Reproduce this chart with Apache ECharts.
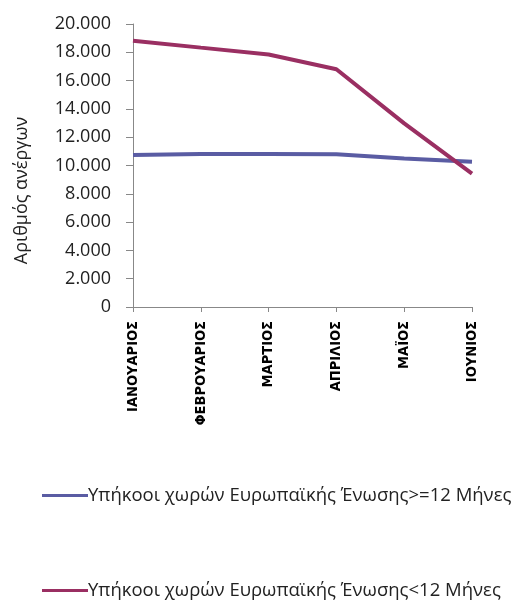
<!DOCTYPE html>
<html>
<head>
<meta charset="utf-8">
<script src="https://cdn.jsdelivr.net/npm/echarts@6/dist/echarts.min.js"></script>
<style>
  html, body { margin: 0; padding: 0; background: #fff; }
  #main { width: 524px; height: 608px; }
</style>
</head>
<body>
<div id="main"></div>
<script>
// months (x axis)
const months = ['ΙΑΝΟΥΑΡΙΟΣ', 'ΦΕΒΡΟΥΑΡΙΟΣ', 'ΜΑΡΤΙΟΣ', 'ΑΠΡΙΛΙΟΣ', 'ΜΑΪΟΣ', 'ΙΟΥΝΙΟΣ'];
// series names
const nameLong = 'Υπήκοοι χωρών Ευρωπαϊκής Ένωσης>=12 Μήνες';
const nameShort = 'Υπήκοοι χωρών Ευρωπαϊκής Ένωσης<12 Μήνες';
// values
const valuesLong = [10750, 10820, 10820, 10800, 10500, 10270];
const valuesShort = [18820, 18330, 17850, 16800, 12980, 9420];

const fmt = v => String(v).replace(/\B(?=(\d{3})+(?!\d))/g, '.');

var chart = echarts.init(document.getElementById('main'));
var option = {
  animation: false,
  textStyle: { fontFamily: 'Open Sans' },
  grid: { left: 133, top: 24, right: 52, bottom: 301, containLabel: false },
  xAxis: {
    type: 'category',
    data: months,
    boundaryGap: false,
    axisLine: { lineStyle: { color: '#888', width: 1 } },
    axisTick: { show: true, length: 5, lineStyle: { color: '#888' } },
    axisLabel: {
      rotate: 90,
      margin: 14,
      color: '#000',
      fontFamily: 'DejaVu Sans Condensed',
      fontWeight: 'bold',
      fontSize: 14.5
    }
  },
  yAxis: {
    type: 'value',
    min: 0,
    max: 20000,
    interval: 2000,
    name: 'Αριθμός ανέργων',
    nameLocation: 'middle',
    nameGap: 102,
    nameRotate: 90,
    nameTextStyle: { fontSize: 18, color: '#222', fontFamily: 'Open Sans', padding: [0, 0, 0, -50] },
    axisLine: { show: true, lineStyle: { color: '#888', width: 1 } },
    axisTick: { show: true, length: 7, lineStyle: { color: '#888' } },
    splitLine: { show: false },
    axisLabel: {
      formatter: fmt,
      color: '#222',
      fontSize: 18,
      margin: 22,
      fontFamily: 'Open Sans'
    }
  },
  legend: [
    {
      data: [nameLong],
      left: 42, top: 486, padding: 0,
      icon: 'rect', itemWidth: 46, itemHeight: 3, itemGap: 2,
      textStyle: { fontSize: 18.5, color: '#222', padding: [0, 0, 0, -5] }
    },
    {
      data: [nameShort],
      left: 42, top: 581, padding: 0,
      icon: 'rect', itemWidth: 46, itemHeight: 3, itemGap: 2,
      textStyle: { fontSize: 18.5, color: '#222', padding: [0, 0, 0, -5] }
    }
  ],
  series: [
    {
      name: nameLong,
      type: 'line',
      data: valuesLong,
      symbol: 'none',
      color: '#5A5CA3',
      lineStyle: { width: 4, color: '#5A5CA3' }
    },
    {
      name: nameShort,
      type: 'line',
      data: valuesShort,
      symbol: 'none',
      color: '#9A2F62',
      lineStyle: { width: 4, color: '#9A2F62' }
    }
  ]
};
chart.setOption(option);
</script>
</body>
</html>
